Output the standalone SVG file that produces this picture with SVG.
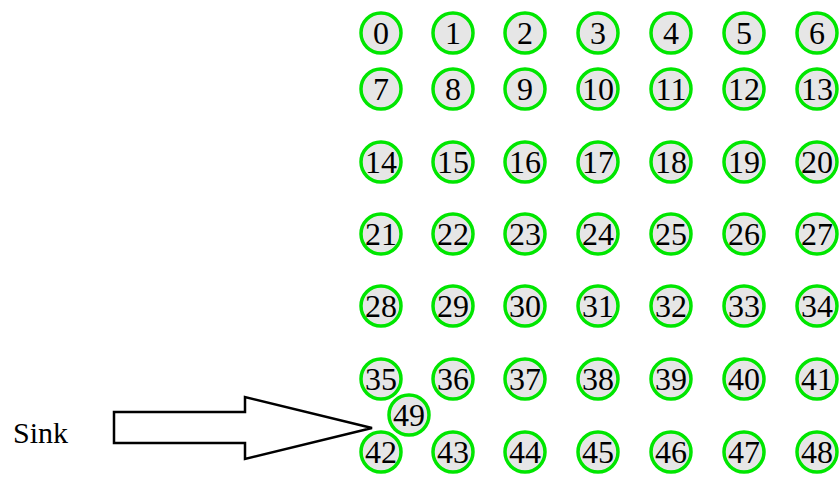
<svg xmlns="http://www.w3.org/2000/svg" width="840" height="477" viewBox="0 0 840 477">
<style>
.n circle{fill:#e6e6e6;stroke:#00e600;stroke-width:3.5}
.n text{font-family:'Liberation Serif','Times New Roman',serif;font-size:32px;fill:#000;text-anchor:middle}
.lbl{font-family:'Liberation Serif','Times New Roman',serif;font-size:30px;fill:#000}
.arrow{fill:#fff;stroke:#000;stroke-width:2.5;stroke-linejoin:miter}
</style>
<rect width="840" height="477" fill="#fff"/>
<g id="connectors">
<polygon class="arrow" points="114,412 245,412 245,397 372,428 245,459 245,443 114,443"/>
</g>
<text class="lbl" x="13" y="443">Sink</text>
<g id="n0" class="n"><circle cx="381" cy="33" r="20"/><text x="381" y="44">0</text></g>
<g id="n1" class="n"><circle cx="453" cy="33" r="20"/><text x="453" y="44">1</text></g>
<g id="n2" class="n"><circle cx="525" cy="33" r="20"/><text x="525" y="44">2</text></g>
<g id="n3" class="n"><circle cx="598" cy="33" r="20"/><text x="598" y="44">3</text></g>
<g id="n4" class="n"><circle cx="671" cy="33" r="20"/><text x="671" y="44">4</text></g>
<g id="n5" class="n"><circle cx="744" cy="33" r="20"/><text x="744" y="44">5</text></g>
<g id="n6" class="n"><circle cx="817" cy="33" r="20"/><text x="817" y="44">6</text></g>
<g id="n7" class="n"><circle cx="381" cy="89" r="20"/><text x="381" y="100">7</text></g>
<g id="n8" class="n"><circle cx="453" cy="89" r="20"/><text x="453" y="100">8</text></g>
<g id="n9" class="n"><circle cx="525" cy="89" r="20"/><text x="525" y="100">9</text></g>
<g id="n10" class="n"><circle cx="598" cy="89" r="20"/><text x="598" y="100">10</text></g>
<g id="n11" class="n"><circle cx="671" cy="89" r="20"/><text x="671" y="100">11</text></g>
<g id="n12" class="n"><circle cx="744" cy="89" r="20"/><text x="744" y="100">12</text></g>
<g id="n13" class="n"><circle cx="817" cy="89" r="20"/><text x="817" y="100">13</text></g>
<g id="n14" class="n"><circle cx="381" cy="162" r="20"/><text x="381" y="173">14</text></g>
<g id="n15" class="n"><circle cx="453" cy="162" r="20"/><text x="453" y="173">15</text></g>
<g id="n16" class="n"><circle cx="525" cy="162" r="20"/><text x="525" y="173">16</text></g>
<g id="n17" class="n"><circle cx="598" cy="162" r="20"/><text x="598" y="173">17</text></g>
<g id="n18" class="n"><circle cx="671" cy="162" r="20"/><text x="671" y="173">18</text></g>
<g id="n19" class="n"><circle cx="744" cy="162" r="20"/><text x="744" y="173">19</text></g>
<g id="n20" class="n"><circle cx="817" cy="162" r="20"/><text x="817" y="173">20</text></g>
<g id="n21" class="n"><circle cx="381" cy="234" r="20"/><text x="381" y="245">21</text></g>
<g id="n22" class="n"><circle cx="453" cy="234" r="20"/><text x="453" y="245">22</text></g>
<g id="n23" class="n"><circle cx="525" cy="234" r="20"/><text x="525" y="245">23</text></g>
<g id="n24" class="n"><circle cx="598" cy="234" r="20"/><text x="598" y="245">24</text></g>
<g id="n25" class="n"><circle cx="671" cy="234" r="20"/><text x="671" y="245">25</text></g>
<g id="n26" class="n"><circle cx="744" cy="234" r="20"/><text x="744" y="245">26</text></g>
<g id="n27" class="n"><circle cx="817" cy="234" r="20"/><text x="817" y="245">27</text></g>
<g id="n28" class="n"><circle cx="381" cy="306" r="20"/><text x="381" y="317">28</text></g>
<g id="n29" class="n"><circle cx="453" cy="306" r="20"/><text x="453" y="317">29</text></g>
<g id="n30" class="n"><circle cx="525" cy="306" r="20"/><text x="525" y="317">30</text></g>
<g id="n31" class="n"><circle cx="598" cy="306" r="20"/><text x="598" y="317">31</text></g>
<g id="n32" class="n"><circle cx="671" cy="306" r="20"/><text x="671" y="317">32</text></g>
<g id="n33" class="n"><circle cx="744" cy="306" r="20"/><text x="744" y="317">33</text></g>
<g id="n34" class="n"><circle cx="817" cy="306" r="20"/><text x="817" y="317">34</text></g>
<g id="n35" class="n"><circle cx="381" cy="379" r="20"/><text x="381" y="390">35</text></g>
<g id="n36" class="n"><circle cx="453" cy="379" r="20"/><text x="453" y="390">36</text></g>
<g id="n37" class="n"><circle cx="525" cy="379" r="20"/><text x="525" y="390">37</text></g>
<g id="n38" class="n"><circle cx="598" cy="379" r="20"/><text x="598" y="390">38</text></g>
<g id="n39" class="n"><circle cx="671" cy="379" r="20"/><text x="671" y="390">39</text></g>
<g id="n40" class="n"><circle cx="744" cy="379" r="20"/><text x="744" y="390">40</text></g>
<g id="n41" class="n"><circle cx="817" cy="379" r="20"/><text x="817" y="390">41</text></g>
<g id="n42" class="n"><circle cx="381" cy="452" r="20"/><text x="381" y="463">42</text></g>
<g id="n43" class="n"><circle cx="453" cy="452" r="20"/><text x="453" y="463">43</text></g>
<g id="n44" class="n"><circle cx="525" cy="452" r="20"/><text x="525" y="463">44</text></g>
<g id="n45" class="n"><circle cx="598" cy="452" r="20"/><text x="598" y="463">45</text></g>
<g id="n46" class="n"><circle cx="671" cy="452" r="20"/><text x="671" y="463">46</text></g>
<g id="n47" class="n"><circle cx="744" cy="452" r="20"/><text x="744" y="463">47</text></g>
<g id="n48" class="n"><circle cx="817" cy="452" r="20"/><text x="817" y="463">48</text></g>
<g id="n49" class="n"><circle cx="409" cy="415" r="20"/><text x="409" y="426">49</text></g>
</svg>
